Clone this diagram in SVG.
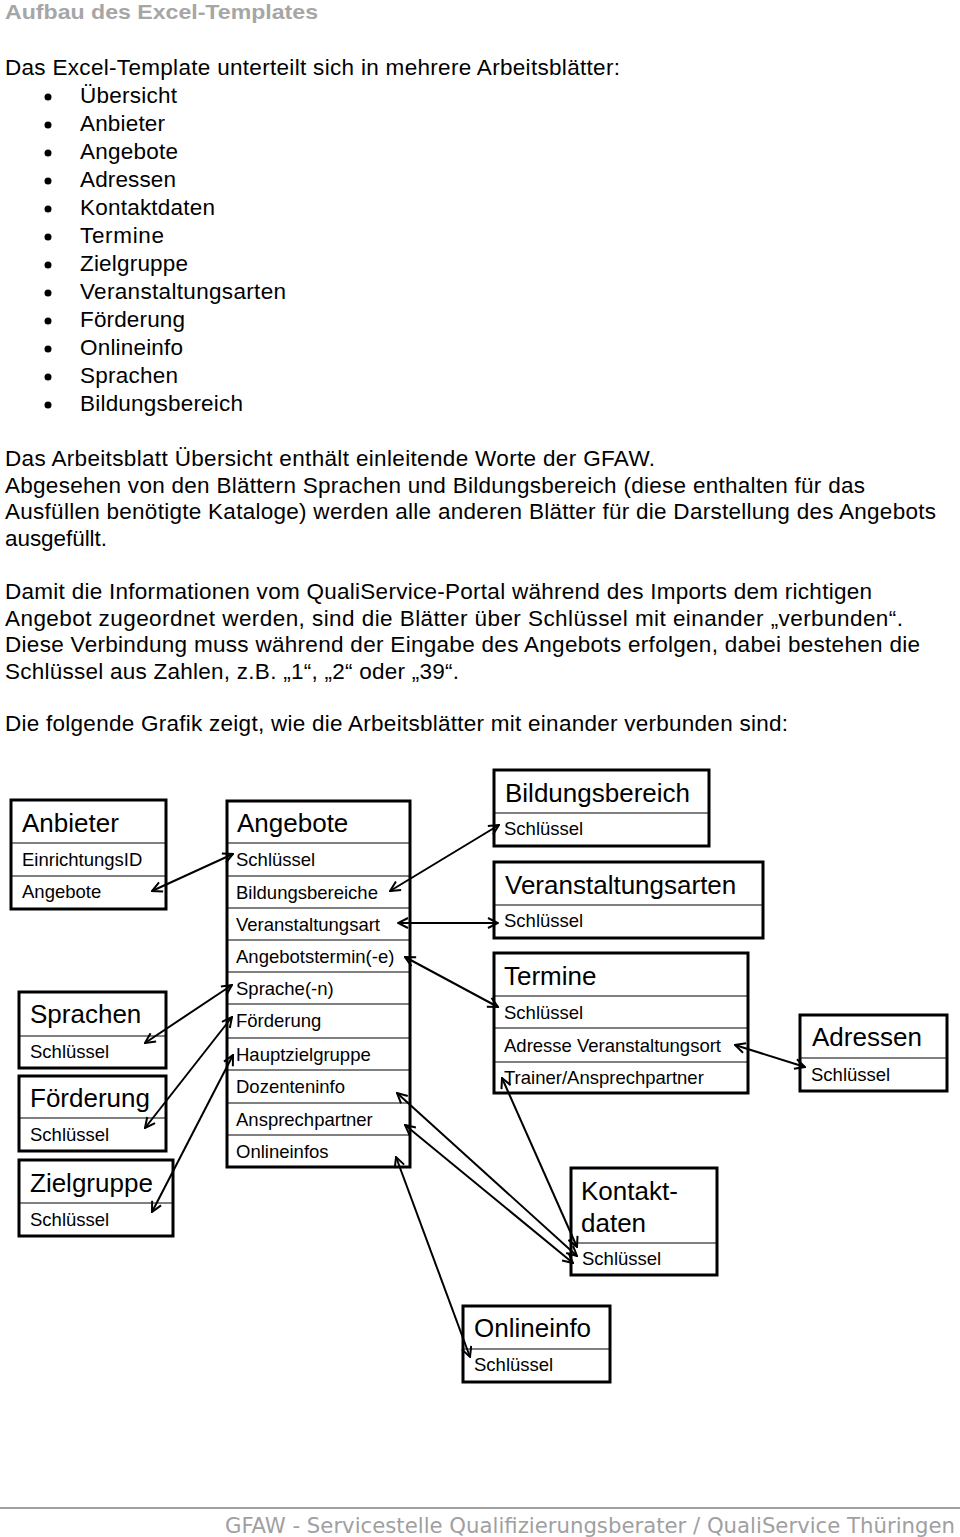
<svg xmlns="http://www.w3.org/2000/svg" width="960" height="1537" viewBox="0 0 960 1537">
<style>
  .title { font-family: "Liberation Sans", Arial, sans-serif; font-weight: bold; font-size: 21px; fill: #a6a6a6; }
  .body { font-family: "Liberation Sans", Arial, sans-serif; font-size: 22.5px; fill: #000; }
  .foot { font-family: "DejaVu Sans Condensed", "DejaVu Sans", sans-serif; font-size: 21px; fill: #a0a0a0; }
  .box { fill: #fff; stroke: #000; stroke-width: 3; }
  .div { stroke: #000; stroke-width: 1.2; }
  .nt { font-family: "Liberation Sans", Arial, sans-serif; font-size: 26px; fill: #000; }
  .nf { font-family: "Liberation Sans", Arial, sans-serif; font-size: 18.5px; fill: #000; }
  .conn line { stroke: #000; stroke-width: 2; marker-start: url(#ah); marker-end: url(#ah); }
</style>
<defs>
  <marker id="ah" viewBox="0 0 12 12" refX="11" refY="6" markerWidth="12" markerHeight="12" markerUnits="userSpaceOnUse" orient="auto-start-reverse">
    <path d="M1,1 L11,6 L1,11" fill="none" stroke="#000" stroke-width="2"/>
  </marker>
</defs>
<rect width="960" height="1537" fill="#fff"/>

<text class="title" x="5" y="19" textLength="313" lengthAdjust="spacingAndGlyphs">Aufbau des Excel-Templates</text>

<g id="intro">
<text class="body" x="5" y="75" textLength="615">Das Excel-Template unterteilt sich in mehrere Arbeitsblätter:</text>
<g fill="#000">
<circle cx="48" cy="97" r="3.5"/><circle cx="48" cy="125" r="3.5"/><circle cx="48" cy="153" r="3.5"/><circle cx="48" cy="181" r="3.5"/>
<circle cx="48" cy="209" r="3.5"/><circle cx="48" cy="237" r="3.5"/><circle cx="48" cy="265" r="3.5"/><circle cx="48" cy="293" r="3.5"/>
<circle cx="48" cy="321" r="3.5"/><circle cx="48" cy="349" r="3.5"/><circle cx="48" cy="377" r="3.5"/><circle cx="48" cy="405" r="3.5"/>
</g>
<text class="body" x="80" y="103" textLength="97">Übersicht</text>
<text class="body" x="80" y="131" textLength="85">Anbieter</text>
<text class="body" x="80" y="159" textLength="98">Angebote</text>
<text class="body" x="80" y="187" textLength="96">Adressen</text>
<text class="body" x="80" y="215" textLength="135">Kontaktdaten</text>
<text class="body" x="80" y="243" textLength="84">Termine</text>
<text class="body" x="80" y="271" textLength="108">Zielgruppe</text>
<text class="body" x="80" y="299" textLength="206">Veranstaltungsarten</text>
<text class="body" x="80" y="327" textLength="105">Förderung</text>
<text class="body" x="80" y="355" textLength="103">Onlineinfo</text>
<text class="body" x="80" y="383" textLength="98">Sprachen</text>
<text class="body" x="80" y="411" textLength="163">Bildungsbereich</text>

<text class="body" x="5" y="466" textLength="650">Das Arbeitsblatt Übersicht enthält einleitende Worte der GFAW.</text>
<text class="body" x="5" y="493" textLength="860">Abgesehen von den Blättern Sprachen und Bildungsbereich (diese enthalten für das</text>
<text class="body" x="5" y="519" textLength="931">Ausfüllen benötigte Kataloge) werden alle anderen Blätter für die Darstellung des Angebots</text>
<text class="body" x="5" y="546" textLength="102">ausgefüllt.</text>

<text class="body" x="5" y="599" textLength="867">Damit die Informationen vom QualiService-Portal während des Imports dem richtigen</text>
<text class="body" x="5" y="626" textLength="898">Angebot zugeordnet werden, sind die Blätter über Schlüssel mit einander „verbunden“.</text>
<text class="body" x="5" y="652" textLength="915">Diese Verbindung muss während der Eingabe des Angebots erfolgen, dabei bestehen die</text>
<text class="body" x="5" y="679" textLength="454">Schlüssel aus Zahlen, z.B. „1“, „2“ oder „39“.</text>

<text class="body" x="5" y="731" textLength="783">Die folgende Grafik zeigt, wie die Arbeitsblätter mit einander verbunden sind:</text>
</g>

<g id="anbieter">
<rect class="box" x="11" y="800" width="155" height="109"/>
<line class="div" x1="11" y1="843" x2="166" y2="843"/>
<line class="div" x1="11" y1="876" x2="166" y2="876"/>
<text class="nt" x="22" y="832">Anbieter</text>
<text class="nf" x="22" y="866">EinrichtungsID</text>
<text class="nf" x="22" y="898">Angebote</text>
</g>

<g id="angebote">
<rect class="box" x="227" y="801" width="183" height="366"/>
<line class="div" x1="227" y1="843" x2="410" y2="843"/>
<line class="div" x1="227" y1="876" x2="410" y2="876"/>
<line class="div" x1="227" y1="908" x2="410" y2="908"/>
<line class="div" x1="227" y1="940" x2="410" y2="940"/>
<line class="div" x1="227" y1="972" x2="410" y2="972"/>
<line class="div" x1="227" y1="1004" x2="410" y2="1004"/>
<line class="div" x1="227" y1="1038" x2="410" y2="1038"/>
<line class="div" x1="227" y1="1070" x2="410" y2="1070"/>
<line class="div" x1="227" y1="1103" x2="410" y2="1103"/>
<line class="div" x1="227" y1="1135" x2="410" y2="1135"/>
<text class="nt" x="237" y="832">Angebote</text>
<text class="nf" x="236" y="866">Schlüssel</text>
<text class="nf" x="236" y="899">Bildungsbereiche</text>
<text class="nf" x="236" y="931">Veranstaltungsart</text>
<text class="nf" x="236" y="963">Angebotstermin(-e)</text>
<text class="nf" x="236" y="995">Sprache(-n)</text>
<text class="nf" x="236" y="1027">Förderung</text>
<text class="nf" x="236" y="1061">Hauptzielgruppe</text>
<text class="nf" x="236" y="1093">Dozenteninfo</text>
<text class="nf" x="236" y="1126">Ansprechpartner</text>
<text class="nf" x="236" y="1158">Onlineinfos</text>
</g>

<g id="bildungsbereich">
<rect class="box" x="494" y="770" width="215" height="76"/>
<line class="div" x1="494" y1="813" x2="709" y2="813"/>
<text class="nt" x="505" y="802">Bildungsbereich</text>
<text class="nf" x="504" y="835">Schlüssel</text>
</g>

<g id="veranstaltungsarten">
<rect class="box" x="494" y="862" width="269" height="76"/>
<line class="div" x1="494" y1="905" x2="763" y2="905"/>
<text class="nt" x="505" y="894">Veranstaltungsarten</text>
<text class="nf" x="504" y="927">Schlüssel</text>
</g>

<g id="termine">
<rect class="box" x="494" y="953" width="254" height="140"/>
<line class="div" x1="494" y1="996" x2="748" y2="996"/>
<line class="div" x1="494" y1="1028" x2="748" y2="1028"/>
<line class="div" x1="494" y1="1062" x2="748" y2="1062"/>
<text class="nt" x="504" y="985">Termine</text>
<text class="nf" x="504" y="1019">Schlüssel</text>
<text class="nf" x="504" y="1052">Adresse Veranstaltungsort</text>
<text class="nf" x="504" y="1084">Trainer/Ansprechpartner</text>
</g>

<g id="adressen">
<rect class="box" x="800" y="1015" width="147" height="76"/>
<line class="div" x1="800" y1="1058" x2="947" y2="1058"/>
<text class="nt" x="812" y="1046">Adressen</text>
<text class="nf" x="811" y="1081">Schlüssel</text>
</g>

<g id="sprachen">
<rect class="box" x="19" y="992" width="147" height="76"/>
<line class="div" x1="19" y1="1036" x2="166" y2="1036"/>
<text class="nt" x="30" y="1023">Sprachen</text>
<text class="nf" x="30" y="1058">Schlüssel</text>
</g>

<g id="foerderung">
<rect class="box" x="19" y="1076" width="147" height="75"/>
<line class="div" x1="19" y1="1118" x2="166" y2="1118"/>
<text class="nt" x="30" y="1107">Förderung</text>
<text class="nf" x="30" y="1141">Schlüssel</text>
</g>

<g id="zielgruppe">
<rect class="box" x="19" y="1160" width="154" height="76"/>
<line class="div" x1="19" y1="1203" x2="173" y2="1203"/>
<text class="nt" x="30" y="1192">Zielgruppe</text>
<text class="nf" x="30" y="1226">Schlüssel</text>
</g>

<g id="kontaktdaten">
<rect class="box" x="571" y="1168" width="146" height="107"/>
<line class="div" x1="571" y1="1243" x2="717" y2="1243"/>
<text class="nt" x="581" y="1200">Kontakt-</text>
<text class="nt" x="581" y="1232">daten</text>
<text class="nf" x="582" y="1265">Schlüssel</text>
</g>

<g id="onlineinfo">
<rect class="box" x="463" y="1306" width="147" height="76"/>
<line class="div" x1="463" y1="1349" x2="610" y2="1349"/>
<text class="nt" x="474" y="1337">Onlineinfo</text>
<text class="nf" x="474" y="1371">Schlüssel</text>
</g>

<g id="connectors" class="conn">
<line x1="152" y1="891" x2="233" y2="854"/>
<line x1="390" y1="891" x2="499" y2="825"/>
<line x1="398" y1="923" x2="498" y2="923"/>
<line x1="405" y1="957" x2="498" y2="1007"/>
<line x1="145" y1="1043" x2="232" y2="985"/>
<line x1="145" y1="1128" x2="232" y2="1017"/>
<line x1="152" y1="1212" x2="233" y2="1055"/>
<line x1="397" y1="1093" x2="577" y2="1256"/>
<line x1="405" y1="1125" x2="573" y2="1263"/>
<line x1="502" y1="1078" x2="577" y2="1247"/>
<line x1="396" y1="1157" x2="470" y2="1357"/>
<line x1="735" y1="1045" x2="805" y2="1067"/>
</g>

<g id="footer">
<line x1="0" y1="1508" x2="960" y2="1508" stroke="#a0a0a0" stroke-width="2"/>
<text class="foot" x="225" y="1533" textLength="730" lengthAdjust="spacingAndGlyphs">GFAW - Servicestelle Qualifizierungsberater / QualiService Thüringen</text>
</g>
</svg>
